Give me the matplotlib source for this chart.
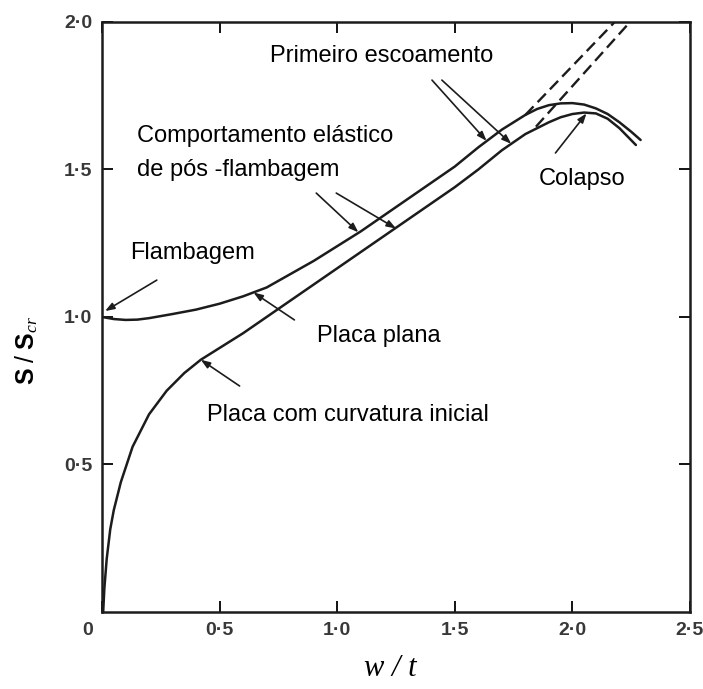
import matplotlib
matplotlib.use("Agg")
import matplotlib.pyplot as plt
from matplotlib.transforms import ScaledTranslation

# Placa plana (flat plate)
flatW = [0.0, 0.05, 0.1, 0.15, 0.2, 0.3, 0.4, 0.5, 0.6, 0.7, 0.8, 0.9, 1.0, 1.1, 1.2, 1.3, 1.4,
         1.5, 1.6, 1.7, 1.8, 1.85, 1.9, 1.95, 2.0, 2.05, 2.1, 2.15, 2.2, 2.25, 2.29]
flatS = [1.0, 0.993, 0.99, 0.991, 0.996, 1.01, 1.025, 1.045, 1.07, 1.10, 1.145, 1.19, 1.24, 1.29, 1.345, 1.40, 1.455,
         1.51, 1.575, 1.635, 1.685, 1.705, 1.718, 1.724, 1.725, 1.72, 1.707, 1.688, 1.66, 1.628, 1.60]

# Placa com curvatura inicial (initially curved plate)
curvW = [0.005, 0.01, 0.02, 0.035, 0.05, 0.08, 0.13, 0.2, 0.275, 0.35, 0.42, 0.5, 0.6, 0.7, 0.8,
         0.9, 1.0, 1.1, 1.2, 1.3, 1.4, 1.5, 1.6, 1.7, 1.8, 1.9, 1.95, 2.0, 2.05, 2.1, 2.15, 2.2, 2.27]
curvS = [0.0, 0.08, 0.18, 0.28, 0.345, 0.44, 0.56, 0.67, 0.75, 0.81, 0.855, 0.895, 0.945, 1.0, 1.055,
         1.11, 1.165, 1.22, 1.275, 1.33, 1.385, 1.44, 1.50, 1.565, 1.62, 1.66, 1.677, 1.688, 1.693, 1.69, 1.672, 1.64, 1.583]

# elastic extensions past first yield (dashed)
yieldFlatW = [1.80, 2.18]
yieldFlatS = [1.685, 2.0]
yieldCurvW = [1.845, 2.245]
yieldCurvS = [1.645, 2.0]

xTicks = [0.0, 0.5, 1.0, 1.5, 2.0, 2.5]
xTickLabels = ["0", "0·5", "1·0", "1·5", "2·0", "2·5"]
yTicks = [0.5, 1.0, 1.5, 2.0]
yTickLabels = ["0·5", "1·0", "1·5", "2·0"]

# (text, x, y) in data units, left/baseline
labels = [
    ("Primeiro escoamento", 0.716, 1.864),
    ("Comportamento elástico", 0.148, 1.593),
    ("de pós -flambagem", 0.148, 1.478),
    ("Flambagem", 0.119, 1.197),
    ("Placa plana", 0.915, 0.915),
    ("Placa com curvatura inicial", 0.445, 0.647),
    ("Colapso", 1.856, 1.447),
]

# (tail, tip) for each arrow
arrows = [
    ((0.233, 1.125), (0.013, 1.02)),
    ((0.818, 0.990), (0.644, 1.083)),
    ((0.585, 0.766), (0.42, 0.855)),
    ((0.911, 1.420), (1.09, 1.287)),
    ((0.996, 1.420), (1.25, 1.30)),
    ((1.403, 1.803), (1.635, 1.597)),
    ((1.445, 1.803), (1.74, 1.587)),
    ((1.928, 1.556), (2.06, 1.69)),
]

lineColor = "#1c1c1c"

'''Draw the two load-deflection curves and the yield extensions.'''
def drawCurves(ax):
    ax.plot(flatW, flatS, color=lineColor, lw=1.8, solid_capstyle="round", solid_joinstyle="round")
    ax.plot(curvW, curvS, color=lineColor, lw=1.8, solid_capstyle="round", solid_joinstyle="round")
    ax.plot(yieldFlatW, yieldFlatS, color=lineColor, lw=1.7, linestyle=(0, (5, 2.5)))
    ax.plot(yieldCurvW, yieldCurvS, color=lineColor, lw=1.7, linestyle=(0, (5, 2.5)))

'''Annotations with little arrows.'''
def drawNotes(ax):
    for tail, tip in arrows:
        ax.annotate("", xy=tip, xytext=tail,
                    arrowprops=dict(arrowstyle="-|>,head_length=0.55,head_width=0.2",
                                    lw=1.2, color=lineColor, shrinkA=0, shrinkB=0))
    z = 5
    for text, x, y in labels:
        ax.text(x, y, text, fontsize=17, family="Liberation Sans", ha="left", va="baseline",
                zorder=z, bbox=dict(facecolor="white", edgecolor="none", pad=2))
        z += 1

def main():
    fig = plt.figure(figsize=(7.03, 6.89), dpi=100)
    ax = fig.add_axes([0.1451, 0.1118, 0.8364, 0.8563])

    drawCurves(ax)
    drawNotes(ax)

    ax.set_xlim(0, 2.5)
    ax.set_ylim(0, 2.0)
    ax.set_xticks(xTicks)
    ax.set_xticklabels(xTickLabels)
    ax.set_yticks(yTicks)
    ax.set_yticklabels(yTickLabels)
    ax.tick_params(direction="in", length=8, width=1.3, top=True, right=True,
                   labelsize=14, labelcolor="#383838", pad=7)
    for lab in ax.get_xticklabels() + ax.get_yticklabels():
        lab.set_family("Liberation Sans")
        lab.set_weight("bold")
    zeroLab = ax.get_xticklabels()[0]
    zeroLab.set_transform(zeroLab.get_transform() + ScaledTranslation(-10 / 72, 0, fig.dpi_scale_trans))
    for sp in ax.spines.values():
        sp.set_linewidth(1.8)
        sp.set_color(lineColor)

    plt.rcParams["mathtext.fontset"] = "custom"
    plt.rcParams["mathtext.bf"] = "Liberation Sans:bold"
    plt.rcParams["mathtext.it"] = "Liberation Serif:italic"
    plt.rcParams["mathtext.rm"] = "Liberation Sans"
    ax.text(-0.128, 0.444, r"$\mathbf{S}\ /\ \mathbf{S}_{cr}$", transform=ax.transAxes,
            rotation=90, ha="center", va="center", fontsize=18)
    ax.text(0.49, -0.095, "w / t", transform=ax.transAxes, ha="center", va="center",
            fontsize=22, family="Liberation Serif", style="italic")

    fig.savefig("out.png", dpi=100)

main()
